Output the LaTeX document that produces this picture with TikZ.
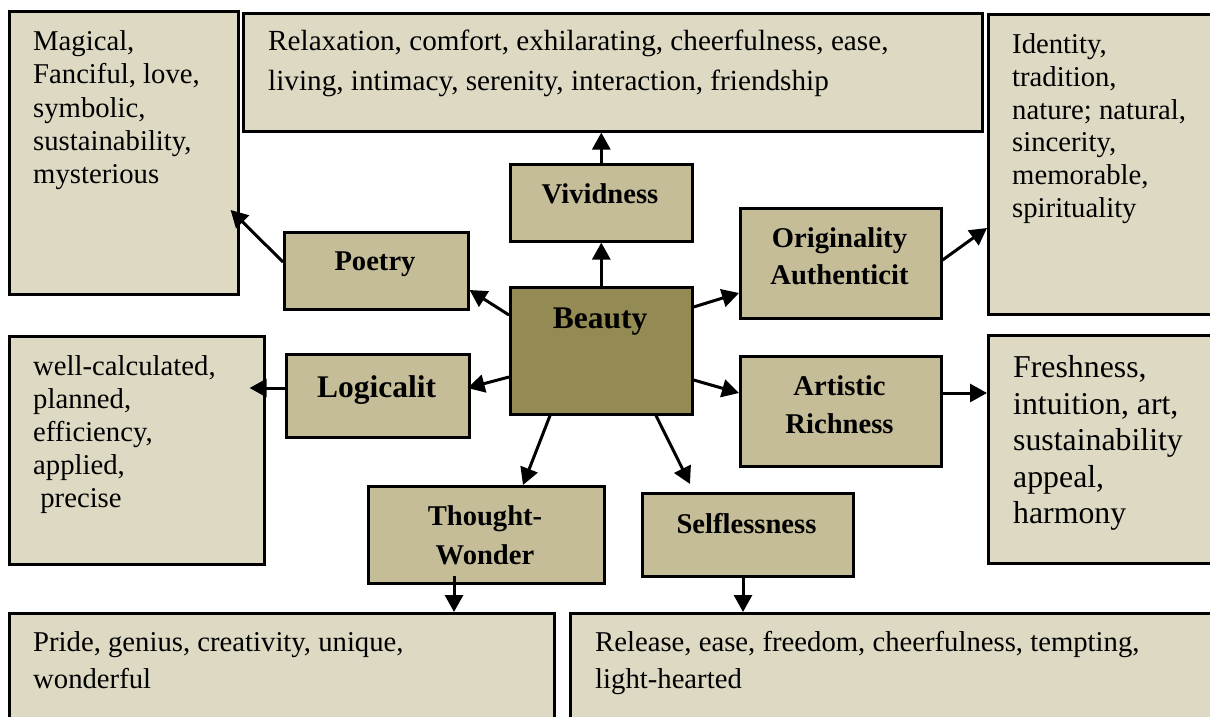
\documentclass[tikz,border=0pt]{standalone}
\usepackage{fontspec}
\setmainfont{Liberation Serif}
\usetikzlibrary{arrows.meta}

\definecolor{tanpale}{HTML}{DDD9C3}
\definecolor{tanmid}{HTML}{C4BD97}
\definecolor{tandark}{HTML}{948A54}

\tikzset{
  box/.style={draw, line width=2.6pt, anchor=north west, inner sep=0pt},
  palebox/.style={box, fill=tanpale},
  midbox/.style={box, fill=tanmid},
  corebox/.style={box, fill=tandark},
  bodytxt/.style={anchor=north west, inner sep=0pt, align=left},
  headtxt/.style={anchor=north, inner sep=0pt, align=center},
  feed/.style={line width=3pt, -{Triangle[length=17pt,width=18pt]}},
}

\begin{document}
\begin{tikzpicture}[x=1pt, y=-1pt]

  \useasboundingbox (0,0) rectangle (1210,717);
  \clip (0,0) rectangle (1210,717);

  \newcommand\HeadFont{\bfseries\fontsize{28.6}{37}\selectfont}
  \newcommand\CoreFont{\bfseries\fontsize{31.5}{37}\selectfont}

  % outer boxes
  \node[palebox, minimum width=229pt, minimum height=283pt] (magic) at (8,10) {};
  \node[palebox, minimum width=739pt, minimum height=118pt] (relax) at (242,12) {};
  \node[palebox, minimum width=240pt, minimum height=300pt] (ident) at (987,13) {};
  \node[palebox, minimum width=255pt, minimum height=228pt] (calc) at (8,335) {};
  \node[palebox, minimum width=240pt, minimum height=228pt] (fresh) at (987,334) {};
  \node[palebox, minimum width=545pt, minimum height=120pt] (pride) at (8,612) {};
  \node[palebox, minimum width=660pt, minimum height=120pt] (release) at (569,612) {};

  % inner boxes
  \node[midbox, minimum width=182pt, minimum height=77pt] (vivid) at (509,163) {};
  \node[midbox, minimum width=184pt, minimum height=77pt] (poetry) at (283,231) {};
  \node[corebox, minimum width=182pt, minimum height=127pt] (beauty) at (509,286) {};
  \node[midbox, minimum width=201pt, minimum height=110pt] (origin) at (739,207) {};
  \node[midbox, minimum width=183pt, minimum height=83pt] (logic) at (285,353) {};
  \node[midbox, minimum width=201pt, minimum height=110pt] (artist) at (739,355) {};
  \node[midbox, minimum width=236pt, minimum height=97pt] (thought) at (367,485) {};
  \node[midbox, minimum width=211pt, minimum height=83pt] (selfless) at (641,492) {};

  % words
  \node[bodytxt, font=\fontsize{28.7}{33.3}\selectfont] (magic-txt) at (33,30.4)
    {Magical,\\Fanciful, love,\\symbolic,\\sustainability,\\mysterious};
  \node[bodytxt, font=\fontsize{29.2}{40}\selectfont] (relax-txt) at (268,30.1)
    {Relaxation, comfort, exhilarating, cheerfulness, ease,\\living, intimacy, serenity, interaction, friendship};
  \node[bodytxt, font=\fontsize{28.7}{32.8}\selectfont] (ident-txt) at (1012,33.4)
    {Identity,\\tradition,\\nature; natural,\\sincerity,\\memorable,\\spirituality};
  \node[bodytxt, font=\fontsize{28.7}{33}\selectfont] (calc-txt) at (33,355.4)
    {well-calculated,\\planned,\\efficiency,\\applied,\\\hspace*{.25em}precise};
  \node[bodytxt, font=\fontsize{31.8}{36.5}\selectfont] (fresh-txt) at (1013,355.3)
    {Freshness,\\intuition, art,\\sustainability\\appeal,\\harmony};
  \node[bodytxt, font=\fontsize{28.7}{37}\selectfont] (pride-txt) at (33,631.4)
    {Pride, genius, creativity, unique,\\wonderful};
  \node[bodytxt, font=\fontsize{28.7}{37}\selectfont] (release-txt) at (595,631.4)
    {Release, ease, freedom, cheerfulness, tempting,\\light-hearted};

  \node[headtxt, font=\HeadFont] (vivid-txt) at (600,183.7) {Vividness};
  \node[headtxt, font=\HeadFont] (poetry-txt) at (375,251.7) {Poetry};
  \node[headtxt, font=\CoreFont] (beauty-txt) at (600,307.7) {Beauty};
  \node[headtxt, font=\CoreFont] (logic-txt) at (376.5,375.7) {Logicalit};
  \node[headtxt, font=\HeadFont] (origin-txt) at (839.5,227.7) {Originality\\Authenticit};
  \node[headtxt, font=\bfseries\fontsize{28.6}{38}\selectfont] (artist-txt) at (839.5,375.7) {Artistic\\Richness};
  \node[headtxt, font=\bfseries\fontsize{28.6}{39}\selectfont] (thought-txt) at (485,505.7) {Thought-\\Wonder};
  \node[headtxt, font=\HeadFont] (selfless-txt) at (746.5,512.7) {Selflessness};

  % arrows
  \draw[feed] (beauty.north) -- (vivid.south); %% beauty->vivid
  \draw[feed] (vivid.north) -- (vivid.north |- relax.south); %% vivid->relax
  \draw[feed] ([yshift=-29pt]beauty.north west) -- ([yshift=-59pt]poetry.north east);
  \draw[feed] ([yshift=-31pt]poetry.north west) -- ([shift={(-9pt,-200pt)}]magic.north east);
  \draw[feed] ([yshift=-91pt]beauty.north west) -- ([shift={(-3pt,-35pt)}]logic.north east);
  \draw[feed] ([yshift=-35pt]logic.north west) -- ([shift={(-16pt,-53pt)}]calc.north east);
  \draw[feed] ([yshift=-21pt]beauty.north east) -- ([yshift=-86pt]origin.north west);
  \draw[feed] ([yshift=-53pt]origin.north east) -- ([yshift=-215pt]ident.north west);
  \draw[feed] ([yshift=-94pt]beauty.north east) -- ([yshift=-38pt]artist.north west);
  \draw[feed] ([shift={(-3pt,-38pt)}]artist.north east) -- ([yshift=-59pt]fresh.north west);
  \draw[feed] ([xshift=41pt]beauty.south west) -- ([xshift=156pt]thought.north west);
  \draw[feed] ([xshift=147pt]beauty.south west) -- ([shift={(49pt,8pt)}]selfless.north west);
  \draw[feed] ([shift={(87pt,9pt)}]thought.south west) -- ([xshift=446pt]pride.north west); %% thought->pride
  \draw[feed] ([xshift=102pt]selfless.south west) -- ([xshift=174pt]release.north west); %% selfless->release

\end{tikzpicture}
\end{document}
